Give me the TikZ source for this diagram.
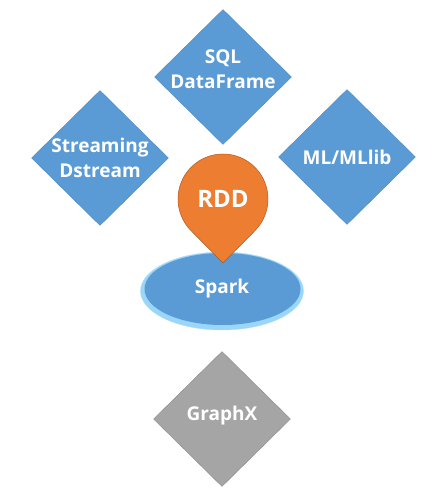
\documentclass[tikz,border=0pt]{standalone}
\usepackage{fontspec}
\setmainfont{Open Sans}
\usetikzlibrary{shapes.geometric,calc}
\definecolor{sparkblue}{HTML}{5B9BD5}
\definecolor{blueline}{HTML}{4F89C0}
\definecolor{glowblue}{HTML}{9AD6F7}
\definecolor{rddorange}{HTML}{ED7D31}
\definecolor{orangeline}{HTML}{AE5A21}
\definecolor{graphgray}{HTML}{A5A5A5}
\definecolor{grayline}{HTML}{8A8A8A}
\tikzset{
    module/.style={diamond,minimum width=137pt,minimum height=135pt,inner sep=0pt,
        fill=sparkblue,draw=blueline,line width=0.4pt},
    lbl/.style={text=white,font=\fontsize{19}{25}\selectfont\bfseries,align=center}
}

\begin{document}
\begin{tikzpicture}[x=1pt,y=1pt]
    \useasboundingbox (0,0) rectangle (441,492);
    % upper modules
    \node[module] (sql) at (223,415) {};
    \node[lbl] (sqltext) at ([yshift=8pt]sql.center) {SQL\\DataFrame};
    \node[module] (stream) at (100,334) {};
    \node[lbl] (streamtext) at (stream.center) {Streaming\\Dstream};
    \node[module] (ml) at (347,335) {};
    \node[lbl] (mltext) at (ml.center) {ML/MLlib};
    % spark core with glow
    \node[ellipse,fill=glowblue,draw=glowblue!80!white,minimum width=163pt,minimum height=78pt,inner sep=0pt] (glow) at (222,201) {};
    \node[ellipse,fill=sparkblue,minimum width=156pt,minimum height=72pt,inner sep=0pt] (spark) at (222.5,203) {};
    \node[lbl] (sparktext) at (222,203) {Spark};
    % rdd pin
    \coordinate (rdd) at (223,293);
    \coordinate (tip) at (223,229);
    \fill[rddorange,draw=orangeline,line width=0.5pt] (tip) -- ($(rdd)+(-44.7:45)$)
        arc[start angle=-44.7,end angle=224.7,radius=45] -- cycle;
    \node[lbl,font=\fontsize{24}{25}\selectfont\bfseries] (rddtext) at (rdd) {RDD};
    % graphx
    \node[module,fill=graphgray,draw=grayline] (graphx) at (222,73) {};
    \node[lbl] (graphxtext) at ([yshift=3pt]graphx.center) {GraphX};
\end{tikzpicture}
\end{document}
